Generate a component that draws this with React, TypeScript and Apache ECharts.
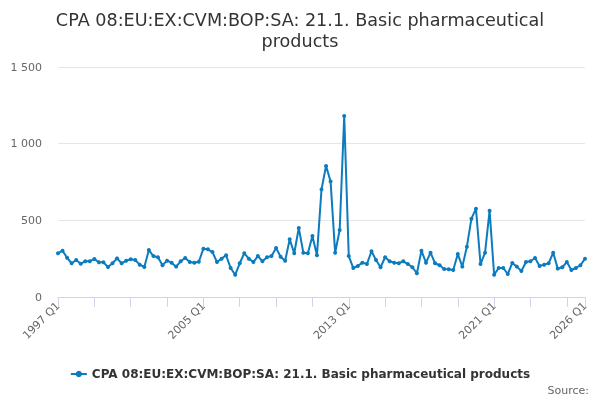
import React, { useEffect, useRef } from "react";
import * as echarts from "echarts";

const startYear = 1997;
const quarterCount = 117;
const categories: string[] = [];
for (let i = 0; i < quarterCount; i++) {
  categories.push(`${startYear + Math.floor(i / 4)} Q${(i % 4) + 1}`);
}

const seriesName = "CPA 08:EU:EX:CVM:BOP:SA: 21.1. Basic pharmaceutical products";

const values = [
  285, 302, 256, 220, 241, 217, 233, 233, 248, 226,
  226, 196, 220, 252, 220, 237, 246, 241, 211, 196,
  306, 267, 259, 207, 237, 224, 198, 233, 254, 228,
  224, 230, 315, 311, 293, 228, 250, 272, 189, 145,
  220, 285, 250, 228, 267, 233, 259, 267, 319, 263,
  237, 376, 285, 450, 289, 285, 398, 272, 702, 854,
  754, 289, 437, 1180, 267, 189, 202, 224, 215, 298,
  241, 194, 259, 233, 224, 220, 233, 215, 194, 155,
  302, 224, 289, 220, 207, 183, 181, 176, 280, 198,
  328, 511, 576, 215, 289, 563, 145, 189, 189, 150,
  222, 198, 170, 228, 233, 254, 202, 211, 220, 289,
  185, 194, 228, 176, 189, 207, 250,
];

const yTicks = [0, 500, 1000, 1500];

const FONT = "'DejaVu Sans', sans-serif";
const LINE_COLOR = "#0c7cbf";

export default function App() {
  const ref = useRef<HTMLDivElement>(null);
  useEffect(() => {
    if (!ref.current) return;
    const chart = echarts.init(ref.current, null, { renderer: "svg" });
    chart.setOption({
      animation: false,
      title: {
        text: "CPA 08:EU:EX:CVM:BOP:SA: 21.1. Basic pharmaceutical\nproducts",
        left: "center",
        top: 4,
        textStyle: {
          fontFamily: FONT,
          fontSize: 17.6,
          fontWeight: "normal",
          color: "#333333",
          lineHeight: 21,
        },
      },
      grid: { left: 58, right: 15, top: 67, bottom: 103, containLabel: false },
      xAxis: {
        type: "category",
        data: categories,
        boundaryGap: false,
        axisLine: { show: true, lineStyle: { color: "#ccd6eb", width: 1 } },
        axisTick: {
          show: true,
          length: 10,
          interval: (i: number) => i % 8 === 0 || i === quarterCount - 1,
          lineStyle: { color: "#ccd6eb" },
        },
        axisLabel: {
          interval: (i: number) => i % 32 === 0 || i === quarterCount - 1,
          rotate: 45,
          margin: 7,
          fontFamily: FONT,
          fontSize: 11,
          color: "#666666",
        },
        splitLine: { show: false },
      },
      yAxis: {
        type: "value",
        min: yTicks[0],
        max: yTicks[yTicks.length - 1],
        interval: 500,
        axisLine: { show: false },
        axisTick: { show: false },
        axisLabel: {
          margin: 16,
          fontFamily: FONT,
          fontSize: 11,
          color: "#666666",
          formatter: (v: number) => String(v).replace(/\B(?=(\d{3})+(?!\d))/g, " "),
        },
        splitLine: { lineStyle: { color: "#e6e6e6", width: 1 } },
      },
      legend: {
        bottom: 15,
        left: "center",
        itemWidth: 16,
        itemHeight: 8,
        itemGap: 10,
        textStyle: {
          fontFamily: FONT,
          fontSize: 12,
          fontWeight: "bold",
          color: "#333333",
        },
        data: [seriesName],
      },
      graphic: [
        {
          type: "text",
          right: 11,
          bottom: 4,
          style: {
            text: "Source:",
            fontFamily: FONT,
            fontSize: 11,
            fill: "#666666",
          },
        },
      ],
      series: [
        {
          name: seriesName,
          type: "line",
          data: values,
          symbol: "circle",
          symbolSize: 4,
          showSymbol: true,
          showAllSymbol: true,
          lineStyle: { color: LINE_COLOR, width: 2 },
          itemStyle: { color: LINE_COLOR },
        },
      ],
    });
    return () => chart.dispose();
  }, []);
  return (
    <div
      ref={ref}
      style={{ position: "fixed", left: 0, top: 0, width: 600, height: 400 }}
    />
  );
}
